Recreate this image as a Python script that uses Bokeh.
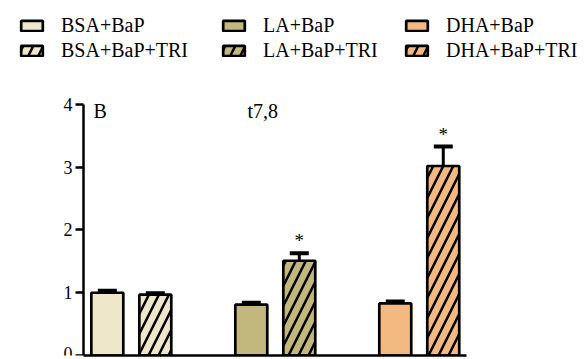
from bokeh.plotting import figure
from bokeh.models import (ColumnDataSource, Whisker, TeeHead, Legend, LegendItem,
                          Label, Range1d, FixedTicker)
from bokeh.embed import file_html
from bokeh.resources import INLINE
from bokeh.core.properties import value

# ---- data ----
groups = ["BSA", "LA", "DHA"]
ctrl_labels = ["BSA+BaP", "LA+BaP", "DHA+BaP"]
tri_labels = ["BSA+BaP+TRI", "LA+BaP+TRI", "DHA+BaP+TRI"]
ctrl_mean = [1.00, 0.81, 0.83]
ctrl_err = [0.03, 0.03, 0.03]
tri_mean = [0.97, 1.51, 3.02]
tri_err = [0.02, 0.12, 0.31]
tri_sig = ["", "*", "*"]
colors = ["#EEE7C9", "#C2B77D", "#F2BA80"]
y_ticks = [0, 1, 2, 3, 4]
panel_label = "B"
title_label = "t7,8"

FONT = "Liberation Serif"
OFF = 1 / 6
BW = 0.222
X0, X1 = 0.668, 3.328      # data extent of the drawn axes
Y0, Y1 = 0, 4

xc = [i + 1 - OFF for i in range(len(groups))]
xt = [i + 1 + OFF for i in range(len(groups))]

src_c = ColumnDataSource(dict(x=xc, top=ctrl_mean, up=[m + e for m, e in zip(ctrl_mean, ctrl_err)],
                              color=colors, label=ctrl_labels))
src_t = ColumnDataSource(dict(x=xt, top=tri_mean, up=[m + e for m, e in zip(tri_mean, tri_err)],
                              color=colors, label=tri_labels, sig=tri_sig))

# frame covers the whole canvas; axes are pinned with fixed_location/bounds
p = figure(width=585, height=359, output_backend="svg", toolbar_location=None,
           x_range=Range1d(0.0915, 4.1545), y_range=Range1d(0, 5.657),
           min_border_left=0, min_border_right=0, min_border_top=0, min_border_bottom=4)
p.outline_line_color = None
p.xgrid.visible = False
p.ygrid.visible = False

rc = p.vbar(x="x", top="top", bottom=0, width=BW, source=src_c, fill_color="color",
            line_color="black", line_width=2.7)
rt = p.vbar(x="x", top="top", bottom=0, width=BW, source=src_t, fill_color="color",
            line_color="black", line_width=2.7, hatch_pattern="/", hatch_color="black",
            hatch_weight=2.5, hatch_scale=20)

for src in (src_c, src_t):
    w = Whisker(base="x", upper="up", lower="top", source=src, dimension="height",
                lower_head=None, upper_head=TeeHead(size=19, line_width=4, line_color="black"),
                line_width=3, line_color="black", level="annotation")
    p.add_layout(w)

p.text(x="x", y="up", text="sig", source=src_t, text_align="center", text_baseline="bottom",
       y_offset=-2, text_font=value(FONT), text_font_size="19px", text_color="black")

yax = p.yaxis[0]
yax.fixed_location = X0
yax.bounds = (Y0, Y1)
yax.ticker = FixedTicker(ticks=y_ticks)
yax.minor_tick_line_color = None
yax.major_tick_in = 0
yax.major_tick_out = 8
yax.major_tick_line_width = 2.5
yax.axis_line_width = 2.5
yax.axis_line_color = "black"
yax.major_tick_line_color = "black"
yax.major_label_text_font = FONT
yax.major_label_text_font_size = "18px"
yax.major_label_text_color = "black"
yax.major_label_standoff = 3

xax = p.xaxis[0]
xax.bounds = (X0, X1)
xax.major_label_text_font_size = "0px"
xax.major_tick_in = 0
xax.major_tick_out = 0
xax.minor_tick_line_color = None
xax.axis_line_width = 2.5
xax.axis_line_color = "black"

p.add_layout(Label(x=0.738, y=3.90, text=panel_label, text_font=FONT, text_font_size="20px",
                   text_baseline="middle", text_color="black"))
p.add_layout(Label(x=1.807, y=3.90, text=title_label, text_font=FONT, text_font_size="20px",
                   text_baseline="middle", text_color="black"))

for i, vx in enumerate([18, 220, 403]):
    leg = Legend(items=[LegendItem(label=ctrl_labels[i], renderers=[rc], index=i),
                        LegendItem(label=tri_labels[i], renderers=[rt], index=i)],
                 location=(vx, 293), orientation="vertical", glyph_width=27, glyph_height=13,
                 label_standoff=16, spacing=2, padding=0, margin=0,
                 label_text_font=FONT, label_text_font_size="20px", label_text_color="black",
                 border_line_alpha=0, background_fill_alpha=0)
    p.add_layout(leg, "center")

open("out.html", "w").write(file_html(p, INLINE))
